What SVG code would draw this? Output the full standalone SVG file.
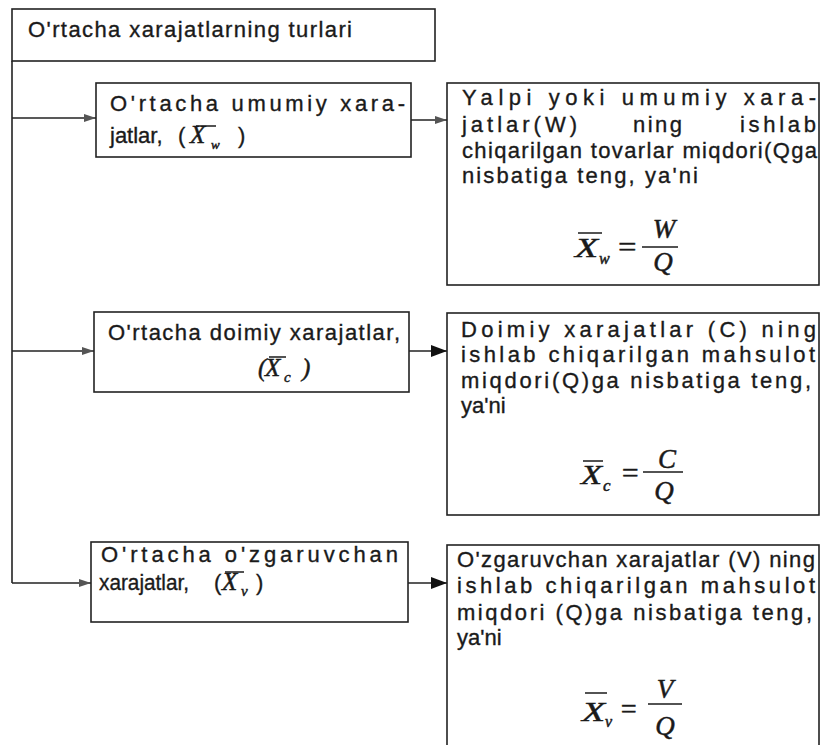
<svg xmlns="http://www.w3.org/2000/svg" width="822" height="745" viewBox="0 0 822 745">
<style>
.box{fill:#fff;stroke:#222;stroke-width:1.6}
.t{font-family:"Liberation Sans",Arial,sans-serif;font-size:22px;fill:#1a1a1a;stroke:#1a1a1a;stroke-width:0.35}
.m{font-family:"Liberation Serif","Times New Roman",serif;font-style:italic;fill:#1a1a1a;stroke:#1a1a1a;stroke-width:0.5}
.ln{stroke:#222;stroke-width:1.6;fill:none}
.bar{stroke:#1a1a1a;stroke-width:1.5}
</style>
<defs>
<marker id="big" viewBox="0 0 16 12" refX="16" refY="6" markerWidth="16" markerHeight="12" markerUnits="userSpaceOnUse" orient="auto">
<path d="M0,0 L16,6 L0,12 Z" fill="#111"/>
</marker>
<marker id="small" viewBox="0 0 12 10" refX="12" refY="5" markerWidth="12" markerHeight="10" markerUnits="userSpaceOnUse" orient="auto">
<path d="M0,1 L12,5 L0,9 Z" fill="#555"/>
</marker>
</defs>
<rect width="822" height="745" fill="#fff"/>

<g id="connectors">
<path class="ln" d="M12,61 V583"/>
<path class="ln" d="M12,118 H96" marker-end="url(#small)"/>
<path class="ln" d="M12,351 H94" marker-end="url(#small)"/>
<path class="ln" d="M12,583 H91" marker-end="url(#small)"/>
<path class="ln" d="M411,120 H447" marker-end="url(#small)"/>
<path class="ln" d="M409,351 H447" marker-end="url(#big)"/>
<path class="ln" d="M408,583 H447" marker-end="url(#big)"/>
</g>

<g id="title">
<rect class="box" x="12" y="9" width="423" height="52"/>
<text class="t" x="28" y="37" textLength="324" lengthAdjust="spacing">O'rtacha xarajatlarning turlari</text>
</g>

<g id="avg-total">
<rect class="box" x="96" y="83" width="315" height="74"/>
<text class="t" x="110" y="111" textLength="295" lengthAdjust="spacing">O'rtacha umumiy xara-</text>
<text class="t" x="110" y="143">jatlar,</text>
<text class="t" x="178" y="143">(</text>
<text class="m" x="190" y="143" font-size="25">X</text>
<line class="bar" x1="196" y1="126" x2="216" y2="126"/>
<text class="m" x="211" y="149" font-size="13">w</text>
<text class="t" x="238" y="143">)</text>
</g>

<g id="avg-total-def">
<rect class="box" x="447" y="83" width="372" height="202"/>
<text class="t" x="462" y="105" textLength="354" lengthAdjust="spacing">Yalpi yoki umumiy xara-</text>
<text class="t" x="462" y="132" textLength="115" lengthAdjust="spacing">jatlar(W)</text>
<text class="t" x="633" y="132" textLength="49" lengthAdjust="spacing">ning</text>
<text class="t" x="740" y="132" textLength="76" lengthAdjust="spacing">ishlab</text>
<text class="t" x="462" y="158" textLength="355" lengthAdjust="spacing">chiqarilgan tovarlar miqdori(Qga</text>
<text class="t" x="462" y="183" textLength="236" lengthAdjust="spacing">nisbatiga  teng, ya'ni</text>
<text class="m" x="575" y="257" font-size="28" textLength="23" lengthAdjust="spacingAndGlyphs">X</text>
<line class="bar" x1="578" y1="233" x2="602" y2="233"/>
<text class="m" x="599" y="264" font-size="16">w</text>
<text class="m" x="616" y="256" font-size="28" font-style="normal" textLength="22" lengthAdjust="spacingAndGlyphs">=</text>
<line class="bar" x1="642" y1="247" x2="678" y2="247"/>
<text class="m" x="664" y="238" font-size="27" text-anchor="middle">W</text>
<text class="m" x="663" y="271" font-size="27" text-anchor="middle">Q</text>
</g>

<g id="avg-fixed">
<rect class="box" x="94" y="312" width="315" height="80"/>
<text class="t" x="108" y="340" textLength="292" lengthAdjust="spacing">O'rtacha doimiy xarajatlar,</text>
<text class="m" x="258" y="376" font-size="25">(</text>
<text class="m" x="265" y="376" font-size="25">X</text>
<line class="bar" x1="269" y1="357" x2="286" y2="357"/>
<text class="m" x="284" y="382" font-size="15">c</text>
<text class="m" x="302" y="376" font-size="25">)</text>
</g>

<g id="avg-fixed-def">
<rect class="box" x="447" y="313" width="372" height="202"/>
<text class="t" x="461" y="337" textLength="355" lengthAdjust="spacing">Doimiy xarajatlar (C) ning</text>
<text class="t" x="461" y="362" textLength="354" lengthAdjust="spacing">ishlab chiqarilgan mahsulot</text>
<text class="t" x="461" y="388" textLength="350" lengthAdjust="spacing">miqdori(Q)ga nisbatiga teng,</text>
<text class="t" x="461" y="413">ya'ni</text>
<text class="m" x="581" y="484" font-size="28" textLength="21" lengthAdjust="spacingAndGlyphs">X</text>
<line class="bar" x1="583" y1="461" x2="603" y2="461"/>
<text class="m" x="603" y="491" font-size="17" font-style="normal">c</text>
<text class="m" x="620" y="482" font-size="28" font-style="normal" textLength="20" lengthAdjust="spacingAndGlyphs">=</text>
<line class="bar" x1="643" y1="472" x2="683" y2="472"/>
<text class="m" x="667" y="468" font-size="27" text-anchor="middle">C</text>
<text class="m" x="664" y="500" font-size="27" text-anchor="middle">Q</text>
</g>

<g id="avg-variable">
<rect class="box" x="91" y="542" width="317" height="80"/>
<text class="t" x="101" y="562" textLength="297" lengthAdjust="spacing">O'rtacha o'zgaruvchan</text>
<text class="t" x="99" y="590" textLength="90" lengthAdjust="spacingAndGlyphs">xarajatlar,</text>
<text class="t" x="214" y="590">(</text>
<text class="m" x="222" y="590" font-size="25">X</text>
<line class="bar" x1="225" y1="572" x2="244" y2="572"/>
<text class="m" x="241" y="596" font-size="15">v</text>
<text class="t" x="256" y="590">)</text>
</g>

<g id="avg-variable-def">
<rect class="box" x="447" y="545" width="372" height="215"/>
<text class="t" x="457" y="567" textLength="358" lengthAdjust="spacing">O'zgaruvchan xarajatlar (V) ning</text>
<text class="t" x="457" y="593" textLength="358" lengthAdjust="spacing">ishlab chiqarilgan mahsulot</text>
<text class="t" x="457" y="620" textLength="355" lengthAdjust="spacing">miqdori (Q)ga nisbatiga teng,</text>
<text class="t" x="457" y="645">ya'ni</text>
<text class="m" x="582" y="721" font-size="28" textLength="23" lengthAdjust="spacingAndGlyphs">X</text>
<line class="bar" x1="585" y1="693" x2="607" y2="693"/>
<text class="m" x="605" y="727" font-size="16">v</text>
<text class="m" x="619" y="718" font-size="28" font-style="normal" textLength="19" lengthAdjust="spacingAndGlyphs">=</text>
<line class="bar" x1="648" y1="704" x2="682" y2="704"/>
<text class="m" x="665" y="698" font-size="27" text-anchor="middle">V</text>
<text class="m" x="665" y="735" font-size="27" text-anchor="middle">Q</text>
</g>
</svg>
